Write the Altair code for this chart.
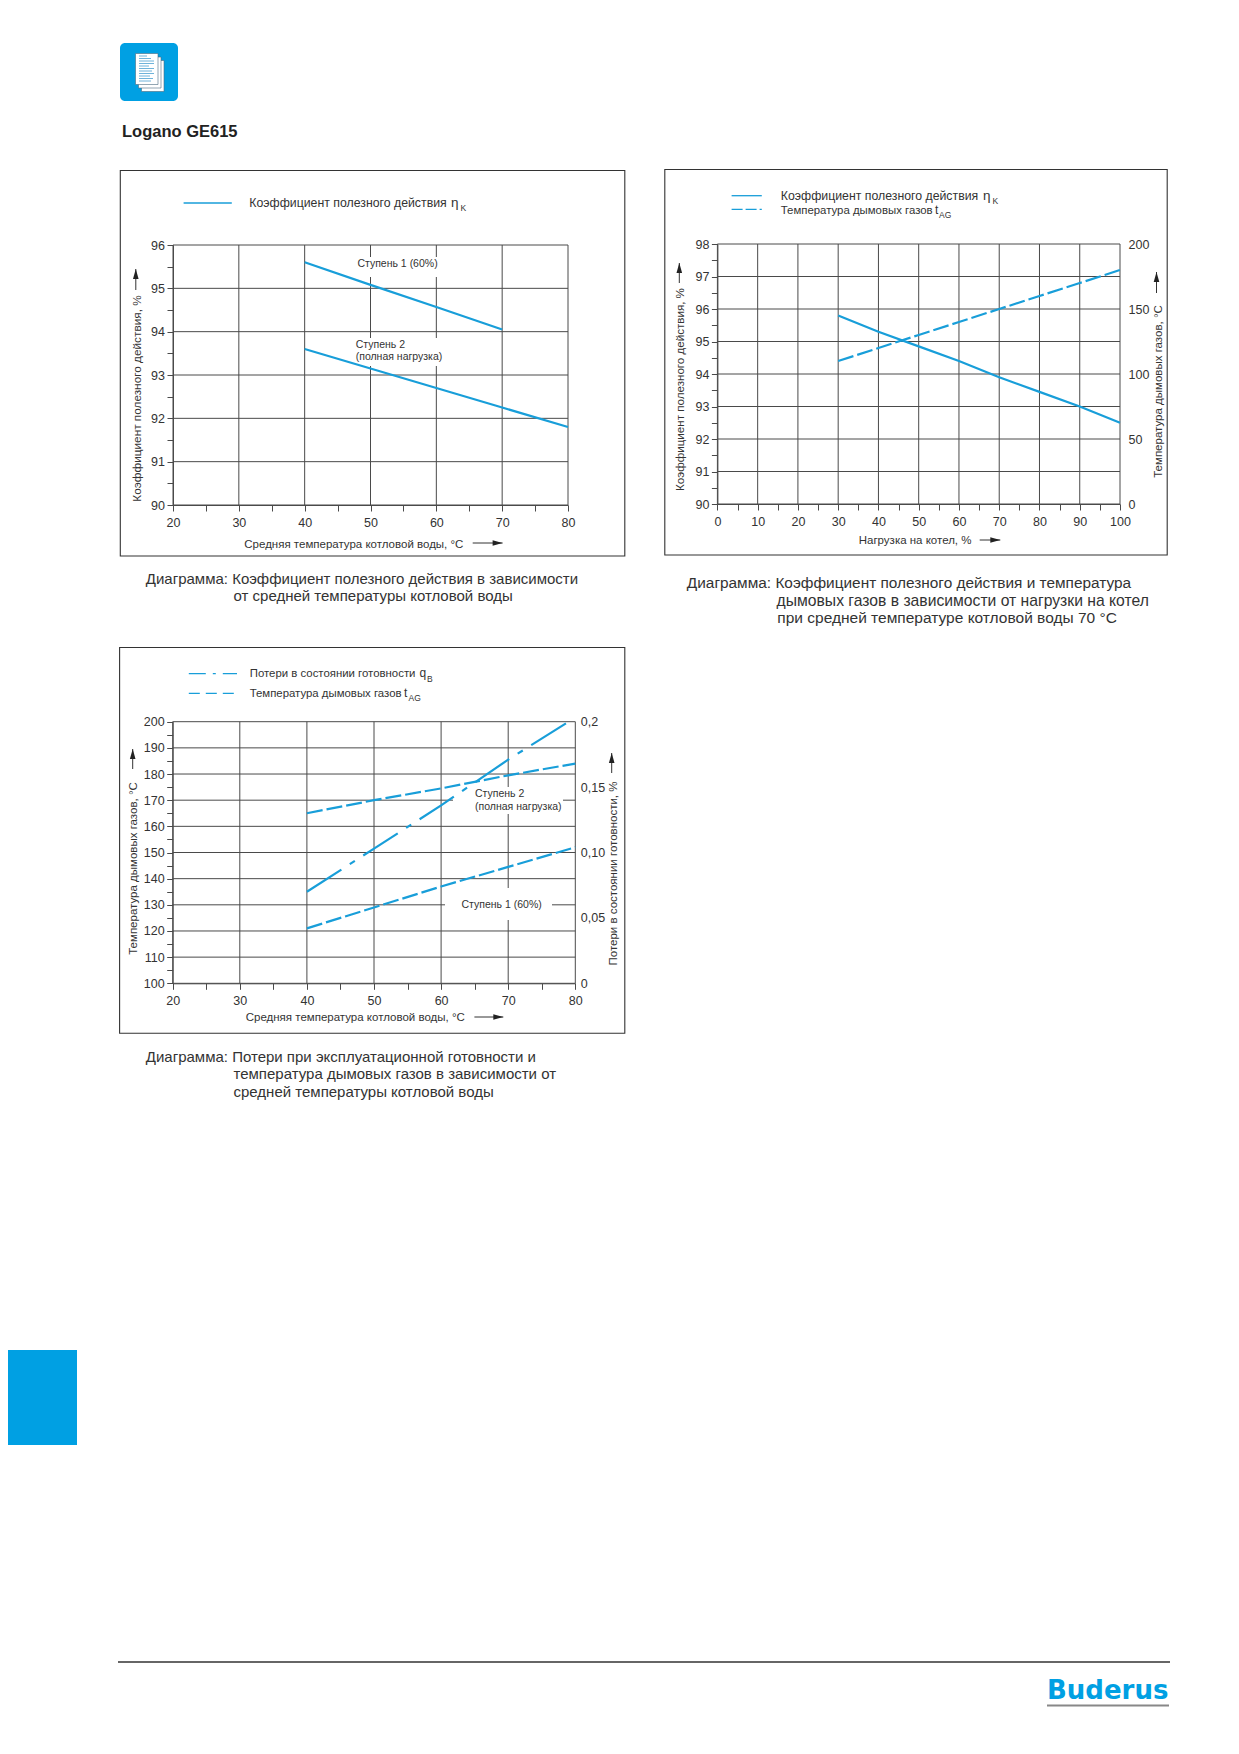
import altair as alt

# ---------- data ----------
c1_grid_x = [20, 30, 40, 50, 60, 70, 80]
c1_grid_y = [90, 91, 92, 93, 94, 95, 96]
c1_tick_x = [20, 25, 30, 35, 40, 45, 50, 55, 60, 65, 70, 75, 80]
c1_tick_y = [90, 90.5, 91, 91.5, 92, 92.5, 93, 93.5, 94, 94.5, 95, 95.5, 96]
c1_s1_x = [40, 50, 60, 70]
c1_s1_y = [95.6, 95.08, 94.57, 94.05]
c1_s2_x = [40, 50, 60, 70, 80]
c1_s2_y = [93.6, 93.15, 92.7, 92.25, 91.8]

c2_grid_x = [0, 10, 20, 30, 40, 50, 60, 70, 80, 90, 100]
c2_grid_y = [90, 91, 92, 93, 94, 95, 96, 97, 98]
c2_tick_x = [0, 5, 10, 15, 20, 25, 30, 35, 40, 45, 50, 55, 60, 65, 70, 75, 80, 85, 90, 95, 100]
c2_tick_y = [90, 90.5, 91, 91.5, 92, 92.5, 93, 93.5, 94, 94.5, 95, 95.5, 96, 96.5, 97, 97.5, 98]
c2_tick_r = [0, 50, 100, 150, 200]
c2_x = [30, 40, 50, 60, 70, 80, 90, 100]
c2_eff = [95.8, 95.3, 94.85, 94.4, 93.9, 93.45, 93.0, 92.5]
c2_temp = [110, 120, 130, 140, 150, 160, 170, 180]

c3_grid_x = [20, 30, 40, 50, 60, 70, 80]
c3_grid_y = [100, 110, 120, 130, 140, 150, 160, 170, 180, 190, 200]
c3_tick_x = [20, 25, 30, 35, 40, 45, 50, 55, 60, 65, 70, 75, 80]
c3_tick_y = [100, 105, 110, 115, 120, 125, 130, 135, 140, 145, 150, 155, 160, 165, 170, 175,
             180, 185, 190, 195, 200]
c3_tick_r = [0, 0.05, 0.1, 0.15, 0.2]
c3_x = [40, 50, 60, 70, 80]
c3_t2 = [165, 170, 174.5, 179.5, 184]
c3_t1 = [121, 129, 137, 144.5, 152]
c3_q_x = [40, 50, 60, 70, 79]
c3_q = [0.07, 0.103, 0.136, 0.171, 0.2]

# ---------- style ----------
FONT = "Liberation Sans"
BLUE = "#189ed9"
SOLID = "#00a0e3"
INK = "#333333"
GRID = "#4a4a4a"
W, H = 1223, 1730
L = []


def P(v):
    return v - 8


def text(s, x, y, size=12, **kw):
    kw.setdefault("color", INK)
    kw.setdefault("align", "left")
    font = kw.pop("font", FONT)
    L.append(alt.Chart(alt.Data(values=[{"t": s}])).mark_text(
        font=font, fontSize=size, baseline="alphabetic", **kw
    ).encode(x=alt.value(P(x)), y=alt.value(P(y)), text="t:N"))


def rect(x0, y0, x1, y1, **kw):
    L.append(alt.Chart(alt.Data(values=[{"a": 1}])).mark_rect(**kw).encode(
        x=alt.value(P(x0)), x2=alt.value(P(x1)), y=alt.value(P(y0)), y2=alt.value(P(y1))))


def stroke(x0, y0, x1, y1, color=INK, width=1.0, dash=None):
    kw = {"strokeDash": dash} if dash else {}
    L.append(alt.Chart(alt.Data(values=[{"a": 1}])).mark_rule(
        color=color, strokeWidth=width, **kw
    ).encode(x=alt.value(P(x0)), x2=alt.value(P(x1)), y=alt.value(P(y0)), y2=alt.value(P(y1))))


def arrow(x0, y0, x1, y1):
    stroke(x0, y0, x1, y1, color=INK, width=1.0)
    up = y1 < y0
    shape = "M-0.28,0.5L0,-0.5L0.28,0.5Z" if up else "M-0.5,-0.28L0.5,0L-0.5,0.28Z"
    hx = x1 if up else x1 - 5
    hy = y1 + 5 if up else y1
    L.append(alt.Chart(alt.Data(values=[{"a": 1}])).mark_point(
        shape=shape, filled=True, color="#222222", size=400, opacity=1
    ).encode(x=alt.value(P(hx)), y=alt.value(P(hy))))


def panel(px0, px1, py0, py1, dx, dy, grid_x, grid_y, tick_x, tick_y, x_title, y_title, xt, yt,
          hide_y_expr, y_title_size=11.5):
    sx = alt.Scale(domain=dx, range=[P(px0), P(px1)], nice=False, zero=False)
    sy = alt.Scale(domain=dy, range=[P(py0), P(py1)], nice=False, zero=False)
    bottom_off = P(py0) - H
    left_off = -P(px0)
    x_axis = alt.Axis(
        orient="bottom", offset=bottom_off, values=tick_x, grid=False, title=x_title,
        labelExpr="datum.value % 10 == 0 ? format(datum.value, 'd') : ''",
        labelFont=FONT, labelFontSize=12.5, labelColor=INK, labelOverlap=False, labelFlush=False,
        labelPadding=5, tickSize=6, tickColor=GRID, domainColor=GRID,
        titleFont=FONT, titleFontSize=11.5, titleFontWeight="normal", titleColor=INK,
        titleX=P(xt[0]), titleY=xt[1] - py0, titleAlign="left", titleBaseline="alphabetic",
        titleAngle=0)
    y_axis = alt.Axis(
        orient="left", offset=left_off, values=tick_y, grid=False, title=y_title,
        labelExpr=hide_y_expr,
        labelFont=FONT, labelFontSize=12.5, labelColor=INK, labelOverlap=False, labelFlush=False,
        labelPadding=2.5, tickSize=6, tickColor=GRID, domainColor=GRID,
        titleFont=FONT, titleFontSize=y_title_size, titleFontWeight="normal", titleColor=INK,
        titleX=yt[0] - px0, titleY=P(yt[1]), titleAlign="center", titleBaseline="alphabetic",
        titleAngle=270)
    vert = [{"x": v, "y": dy[0], "y2": dy[1]} for v in grid_x]
    horz = [{"y": v, "x": dx[0], "x2": dx[1]} for v in grid_y]
    L.append(alt.Chart(alt.Data(values=vert)).mark_rule(color=GRID, strokeWidth=1).encode(
        x=alt.X("x:Q", scale=sx, axis=x_axis),
        y=alt.Y("y:Q", scale=sy, axis=None), y2="y2:Q"))
    L.append(alt.Chart(alt.Data(values=horz)).mark_rule(color=GRID, strokeWidth=1).encode(
        y=alt.Y("y:Q", scale=sy, axis=y_axis),
        x=alt.X("x:Q", scale=sx, axis=None), x2="x2:Q"))
    return sx, sy


def series(xs, ys, sx, sy, dash=None, axis=None, width=2.2):
    kw = {"strokeDash": dash} if dash else {}
    rows = [{"x": a, "y": b} for a, b in zip(xs, ys)]
    L.append(alt.Chart(alt.Data(values=rows)).mark_line(
        color=BLUE, strokeWidth=width, strokeCap="butt", **kw
    ).encode(x=alt.X("x:Q", scale=sx, axis=None), y=alt.Y("y:Q", scale=sy, axis=axis)))


def right_axis(px1, values, expr, title, tx, ty, pad):
    return alt.Axis(
        orient="right", offset=P(px1) - W, values=values, grid=False, title=title,
        labelExpr=expr, labelFont=FONT, labelFontSize=12.5, labelColor=INK, labelOverlap=False,
        labelFlush=False, labelPadding=pad, tickSize=0, ticks=False, domain=False,
        titleFont=FONT, titleFontSize=11.5, titleFontWeight="normal", titleColor=INK,
        titleX=tx - px1, titleY=P(ty), titleAlign="center", titleBaseline="alphabetic",
        titleAngle=270)


# ---------- page furniture ----------
rect(8, 1350, 77, 1445, color=SOLID)
rect(120, 43, 178, 101, color=SOLID, cornerRadius=5)
for ox, oy in [(6, 7), (3, 3.5), (0, 0)]:
    rect(135.5 + ox, 53.5 + oy, 158 + ox, 84.5 + oy, fill="white", stroke="#4a6a80", strokeWidth=0.6)
for i, ln in enumerate([8, 12, 15, 15, 10, 15, 13, 15, 11, 14, 12]):
    stroke(139, 56 + i * 2.5, 139 + ln, 56 + i * 2.5, color="#4a9fd0", width=0.8)
text("Logano GE615", 122, 137, size=16.5, fontWeight="bold", color="#222222")
stroke(118, 1662, 1170, 1662, color="#333333", width=1.4)
text("Buderus", 1047, 1699, size=26, fontWeight="bold", color=SOLID, font="DejaVu Sans")
stroke(1047, 1705.5, 1169, 1705.5, color="#888888", width=2)

# ---------- chart 1 ----------
rect(120.3, 170.5, 624.8, 556, fillOpacity=0, stroke="#333333", strokeWidth=1.1)
sx, sy = panel(173, 568, 505, 245, [20, 80], [90, 96], c1_grid_x, c1_grid_y, c1_tick_x, c1_tick_y,
               "Средняя температура котловой воды, °С", "Коэффициент полезного действия, %",
               (243.8, 547), (140, 398),
               "datum.value % 1 == 0 ? format(datum.value, 'd') : ''", y_title_size=11.8)
rect(353, 257, 443, 277, color="white")
rect(353, 338, 448, 366, color="white")
series(c1_s1_x, c1_s1_y, sx, sy)
series(c1_s2_x, c1_s2_y, sx, sy)
stroke(183.6, 203, 231.8, 203, color=BLUE, width=1.3)
text("Коэффициент полезного действия", 249.3, 207, size=12.3)
text("η", 451, 207, size=13.5)
text("K", 460.6, 211, size=8.5)
text("Ступень 1 (60%)", 357.4, 267, size=10.5)
text("Ступень 2", 355.7, 348, size=10.5)
text("(полная нагрузка)", 355.7, 360, size=10.5)
arrow(135.8, 290, 135.8, 269)
arrow(472.7, 543, 502.6, 543)
text("Диаграмма: Коэффициент полезного действия в зависимости", 145.8, 583.5, size=15)
text("от средней температуры котловой воды", 233.5, 600.5, size=15)

# ---------- chart 2 ----------
rect(664.8, 169.5, 1167.2, 555, fillOpacity=0, stroke="#333333", strokeWidth=1.1)
sx, sy = panel(717.4, 1120, 504, 244, [0, 100], [90, 98], c2_grid_x, c2_grid_y, c2_tick_x, c2_tick_y,
               "Нагрузка на котел, %", "Коэффициент полезного действия, %",
               (858.2, 543), (683.5, 389),
               "datum.value % 1 == 0 ? format(datum.value, 'd') : ''", y_title_size=11.6)
series(c2_x, c2_eff, sx, sy)
sr2 = alt.Scale(domain=[0, 200], range=[P(504), P(244)], nice=False, zero=False)
series(c2_x, c2_temp, sx, sr2, dash=[16, 4],
       axis=right_axis(1120, c2_tick_r, "format(datum.value, 'd')",
                       "Температура дымовых газов, °С", 1161, 391, 8))
stroke(731.6, 195.7, 761.8, 195.7, color=BLUE, width=1.3)
stroke(731.6, 209.3, 761.8, 209.3, color=BLUE, width=1.3, dash=[11, 3])
text("Коэффициент полезного действия", 780.8, 200, size=12.3)
text("η", 983, 200, size=13.5)
text("K", 992.4, 204, size=8.5)
text("Температура дымовых газов", 780.8, 214.3, size=11.4)
text("t", 935, 214.3, size=12)
text("AG", 939, 218, size=8.5)
arrow(679.3, 283, 679.3, 263)
arrow(1156.5, 293, 1156.5, 272)
arrow(979.7, 540, 1000.3, 540)
text("Диаграмма: Коэффициент полезного действия и температура", 686.8, 588.3, size=15.4)
text("дымовых газов в зависимости от нагрузки на котел", 776.6, 605.7, size=15.7)
text("при средней температуре котловой воды 70 °С", 777.3, 623.3, size=15.5)

# ---------- chart 3 ----------
rect(119.6, 647.5, 624.8, 1033.3, fillOpacity=0, stroke="#333333", strokeWidth=1.1)
sx, sy = panel(172.7, 575.3, 983.3, 721.7, [20, 80], [100, 200], c3_grid_x, c3_grid_y, c3_tick_x,
               c3_tick_y,
               "Средняя температура котловой воды, °С", "Температура дымовых газов, °С",
               (245.2, 1020.7), (136, 868),
               "datum.value % 10 == 0 ? format(datum.value, 'd') : ''")
rect(453, 787, 563, 814, color="white")
rect(445, 888, 552, 920, color="white")
series(c3_x, c3_t2, sx, sy, dash=[16, 4])
series(c3_x, c3_t1, sx, sy, dash=[16, 4])
sr3 = alt.Scale(domain=[0, 0.2], range=[P(983.3), P(721.7)], nice=False, zero=False)
q_expr = ("datum.value == 0 ? '0' : datum.value == 0.05 ? '0,05' : datum.value == 0.1 ? '0,10' : "
          "datum.value == 0.15 ? '0,15' : '0,2'")
series(c3_q_x, c3_q, sx, sr3, dash=[41, 10, 6, 10],
       axis=right_axis(575.3, c3_tick_r, q_expr, "Потери в состоянии готовности, %", 616, 873, 5))
stroke(188.8, 673.7, 237, 673.7, color=BLUE, width=1.3, dash=[17, 7, 3, 7])
stroke(188.8, 693.3, 237, 693.3, color=BLUE, width=1.3, dash=[11, 6])
text("Потери в состоянии готовности", 249.7, 677.3, size=11.4)
text("q", 419.5, 677.3, size=12)
text("B", 427, 681.5, size=8.5)
text("Температура дымовых газов", 249.7, 697.3, size=11.4)
text("t", 404, 697.3, size=12)
text("AG", 408.5, 701, size=8.5)
text("Ступень 2", 475, 796.7, size=10.5)
text("(полная нагрузка)", 475, 810, size=10.5)
text("Ступень 1 (60%)", 461.5, 908, size=10.5)
arrow(132.7, 769, 132.7, 749)
arrow(611.7, 773, 611.7, 753)
arrow(474.4, 1017, 503.3, 1017)
text("Диаграмма: Потери при эксплуатационной готовности и", 145.8, 1061.7, size=15)
text("температура дымовых газов в зависимости от", 233.5, 1079.3, size=15)
text("средней температуры котловой воды", 233.5, 1096.7, size=15)

chart = alt.layer(*L).resolve_scale(x="independent", y="independent").resolve_axis(
    x="independent", y="independent"
).properties(
    width=W, height=H, padding=0, autosize=alt.AutoSizeParams(type="none"), background="white"
).configure_view(stroke=None)

chart.save("out.html", embed_options={"renderer": "svg", "actions": False})
